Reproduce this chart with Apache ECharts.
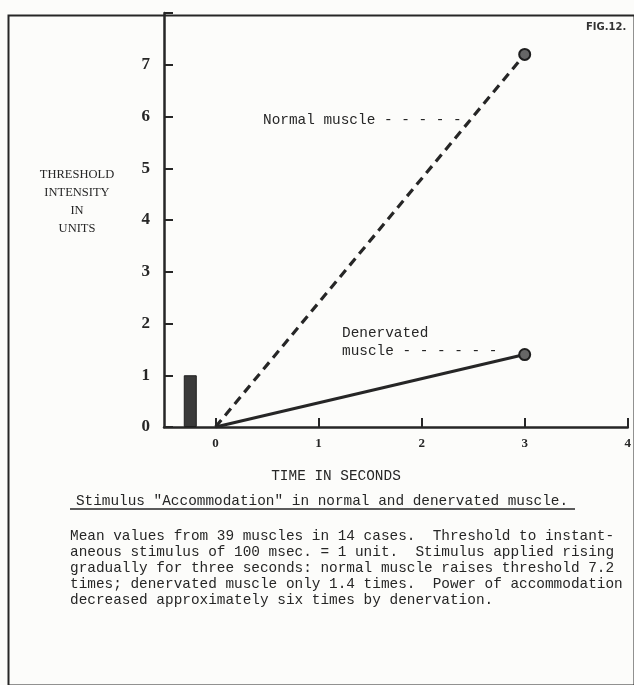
<!DOCTYPE html>
<html><head><meta charset="utf-8">
<script src="https://cdn.jsdelivr.net/npm/echarts@6/dist/echarts.min.js"></script>
<style>html,body{margin:0;padding:0;background:#fcfcfa}#c{width:634px;height:685px}</style>
</head><body><div id="c"></div>
<script>
// data
const xTickValues = [0, 1, 2, 3, 4];
const yTickValues = [0, 1, 2, 3, 4, 5, 6, 7];
const timeSeconds = [0, 3];
const normalMuscle = [0, 7.2];
const denervatedMuscle = [0, 1.4];
const instantTime = [-0.245];
const instantThreshold = [1];
const paragraphLines = [
  "Mean values from 39 muscles in 14 cases.  Threshold to instant-",
  "aneous stimulus of 100 msec. = 1 unit.  Stimulus applied rising",
  "gradually for three seconds: normal muscle raises threshold 7.2",
  "times; denervated muscle only 1.4 times.  Power of accommodation",
  "decreased approximately six times by denervation."
];

const ink = '#262626';
const mono = '"Liberation Mono", "DejaVu Sans Mono", monospace';
const serif = '"Liberation Serif", "DejaVu Serif", serif';

const chart = echarts.init(document.getElementById('c'), null, {renderer: 'canvas'});

const graphics = [
  {type: 'rect', left: 6, top: 13, z: -1, shape: {width: 626, height: 670}, style: {fill: 'none', stroke: ink, lineWidth: 2}},
  {type: 'text', left: 586, top: 22, style: {text: 'FIG.12.', font: 'bold 10px "DejaVu Sans", sans-serif', fill: '#333'}},
  {type: 'text', x: 77, y: 166, style: {text: 'THRESHOLD\nINTENSITY\nIN\nUNITS', font: '12.5px ' + serif, fill: ink, align: 'center', lineHeight: 18}},
  {type: 'text', x: 263, y: 120, style: {text: 'Normal muscle - - - - -', font: '14.4px ' + mono, fill: ink, verticalAlign: 'middle'}},
  {type: 'text', x: 342, y: 333, style: {text: 'Denervated', font: '14.4px ' + mono, fill: ink, verticalAlign: 'middle'}},
  {type: 'text', x: 342, y: 351, style: {text: 'muscle - - - - - -', font: '14.4px ' + mono, fill: ink, verticalAlign: 'middle'}},
  {type: 'text', x: 336, y: 476, style: {text: 'TIME IN SECONDS', font: '14.4px ' + mono, fill: ink, align: 'center', verticalAlign: 'middle'}},
  {type: 'text', x: 322, y: 501, style: {text: 'Stimulus "Accommodation" in normal and denervated muscle.', font: '14.4px ' + mono, fill: ink, align: 'center', verticalAlign: 'middle'}},
  {type: 'line', shape: {x1: 70, y1: 509, x2: 575, y2: 509}, style: {stroke: ink, lineWidth: 1.3}},
  {type: 'text', x: 70, y: 528, style: {text: paragraphLines.join('\n'), font: '14.4px ' + mono, fill: ink, lineHeight: 16}}
];

const option = {
  backgroundColor: '#fcfcfa',
  animation: false,
  grid: {left: 164, right: 2, top: 13, bottom: 258},
  xAxis: {
    type: 'value', min: -0.5, max: 4,
    axisLine: {onZero: false, lineStyle: {color: ink, width: 2.5}},
    axisTick: {customValues: xTickValues, inside: true, length: 9, lineStyle: {color: ink, width: 2}},
    axisLabel: {customValues: xTickValues, color: ink, fontFamily: serif, fontWeight: 'bold', fontSize: 13, margin: 10},
    splitLine: {show: false}
  },
  yAxis: {
    type: 'value', min: 0, max: 8, interval: 1,
    axisLine: {show: true, onZero: false, lineStyle: {color: ink, width: 2.5}},
    axisTick: {show: true, inside: true, length: 9, lineStyle: {color: ink, width: 2}},
    axisLabel: {color: ink, fontFamily: serif, fontWeight: 'bold', fontSize: 17, margin: 14,
      formatter: v => yTickValues.includes(v) ? String(v) : ''},
    splitLine: {show: false}
  },
  graphic: graphics,
  series: [
    {type: 'bar', data: instantTime.map((t, i) => [t, instantThreshold[i]]), barWidth: 13,
      itemStyle: {color: '#3a3a3a', borderColor: '#1e1e1e', borderWidth: 1}},
    {type: 'line', data: timeSeconds.map((t, i) => [t, normalMuscle[i]]),
      lineStyle: {color: ink, width: 3.2, type: [9, 6]},
      symbol: 'circle', symbolSize: (v, p) => p.dataIndex === 1 ? 11 : 0,
      itemStyle: {color: '#666', borderColor: '#1e1e1e', borderWidth: 2}},
    {type: 'line', data: timeSeconds.map((t, i) => [t, denervatedMuscle[i]]),
      lineStyle: {color: ink, width: 3},
      symbol: 'circle', symbolSize: (v, p) => p.dataIndex === 1 ? 11 : 0,
      itemStyle: {color: '#666', borderColor: '#1e1e1e', borderWidth: 2}}
  ]
};
chart.setOption(option);
</script>
</body></html>
